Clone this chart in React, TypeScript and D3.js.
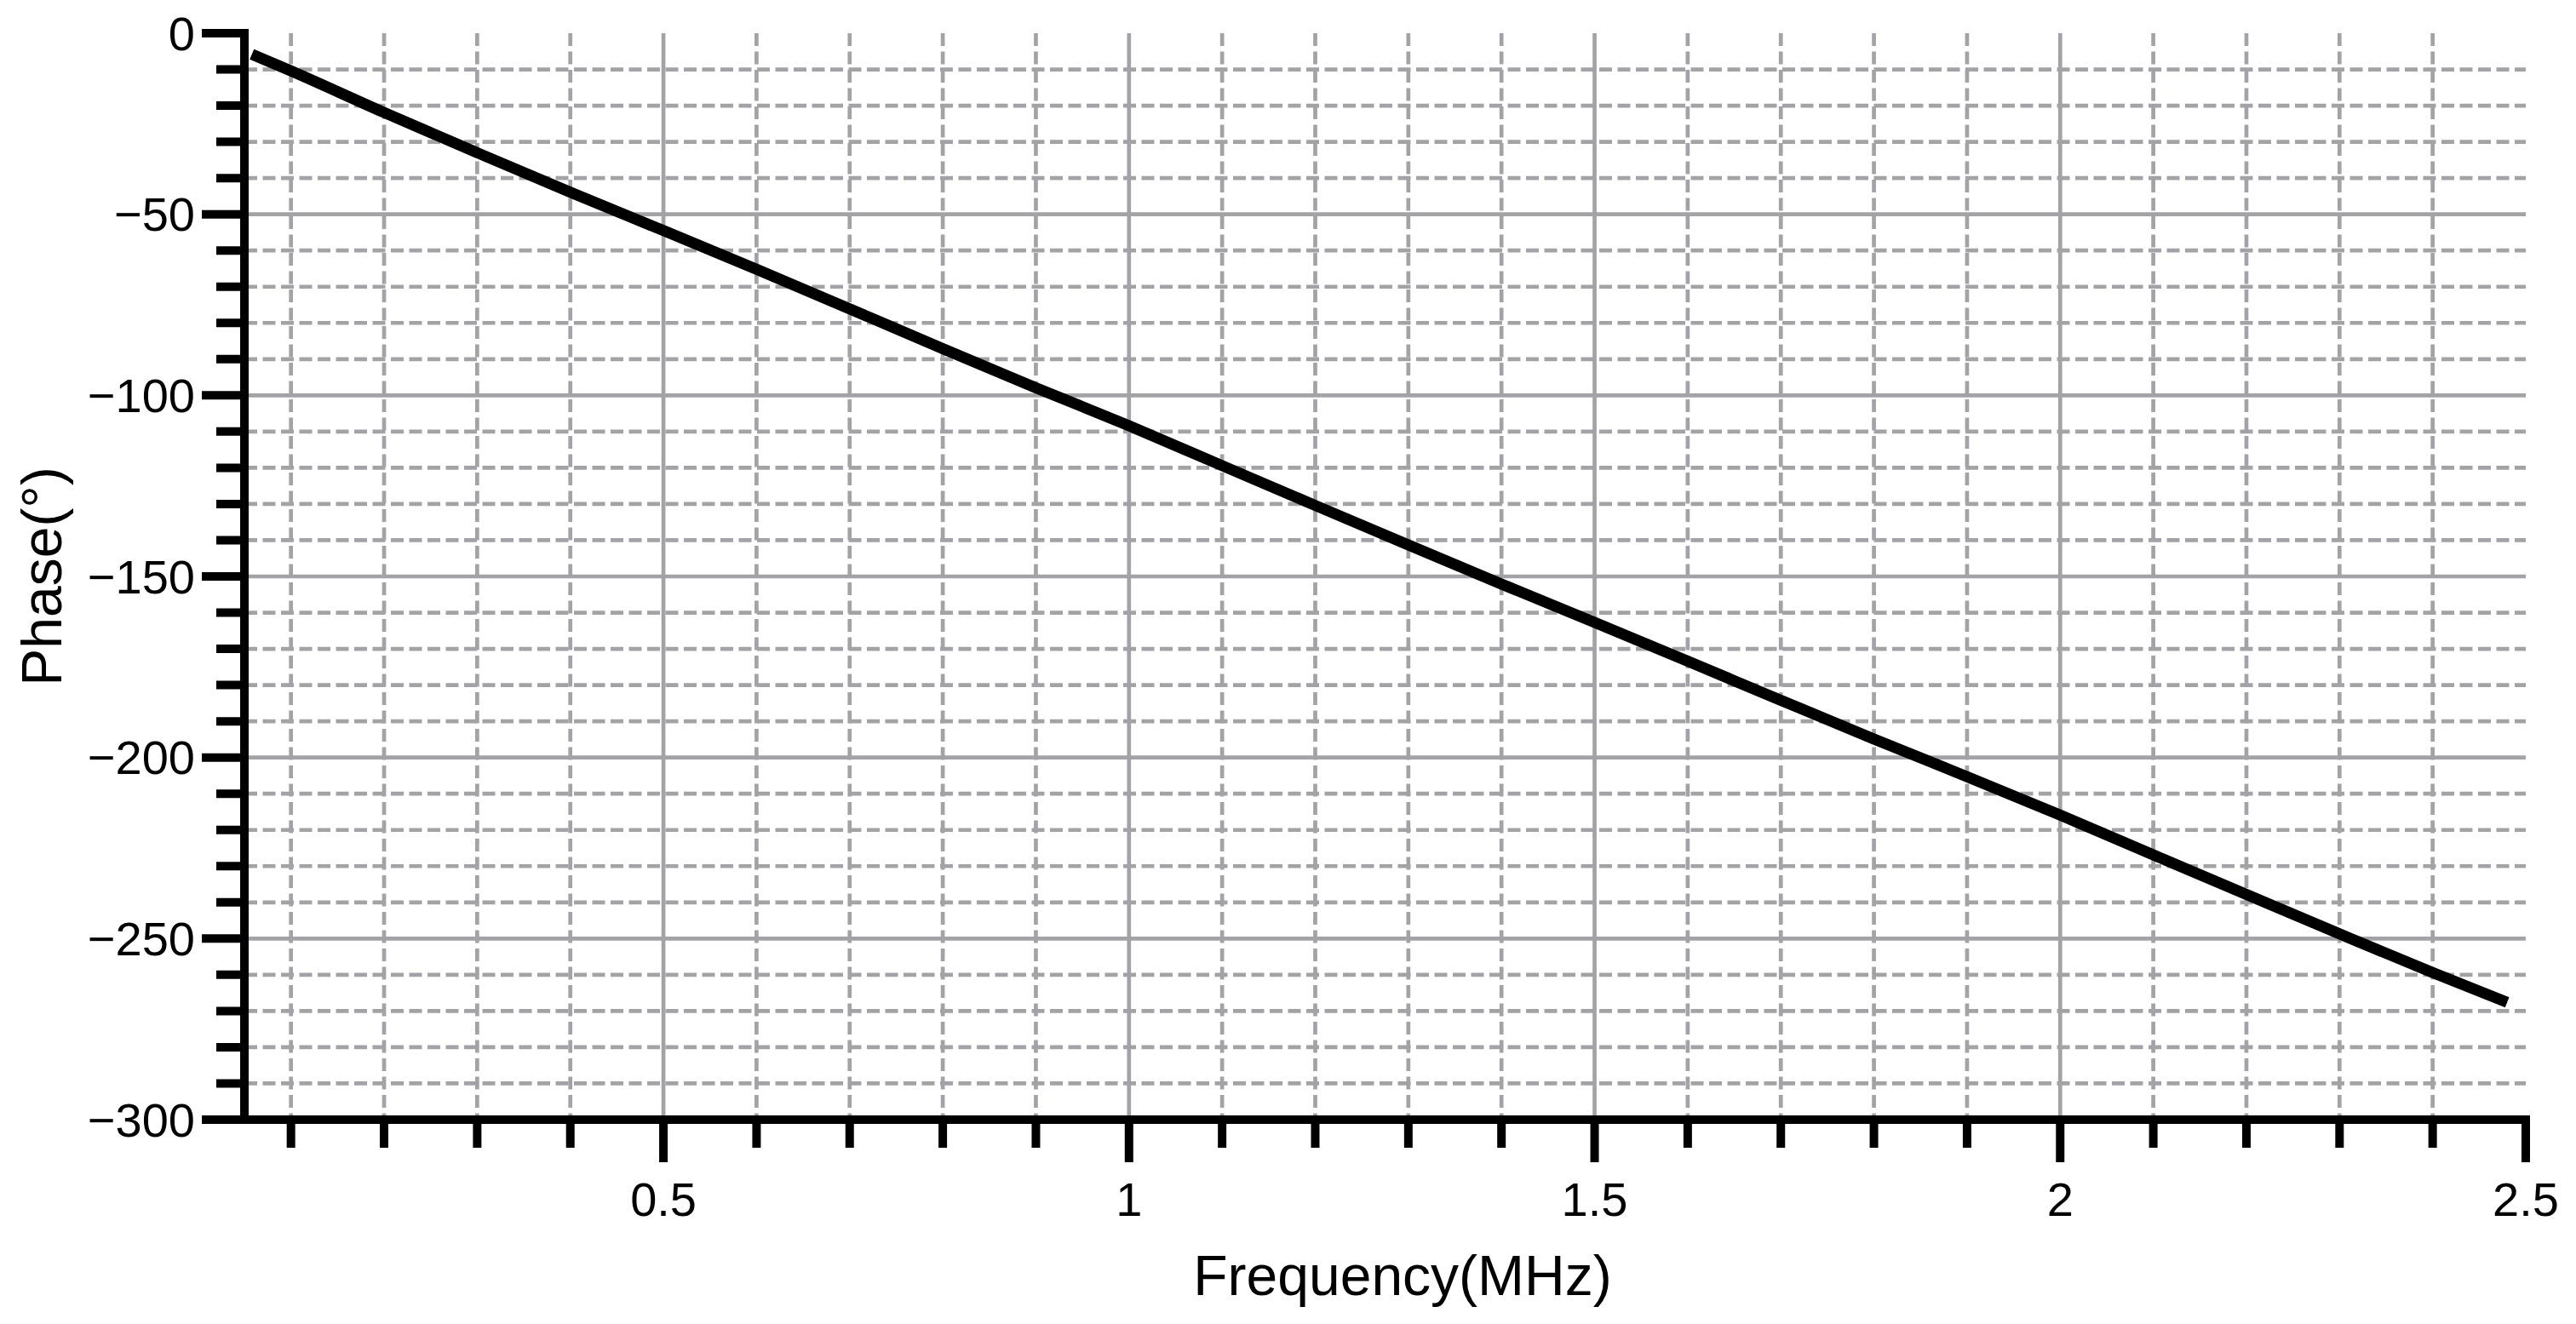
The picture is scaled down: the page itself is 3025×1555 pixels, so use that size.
import React from "react";
import * as d3 from "d3";

// ---- data ----
const freqMHz = [0.058, 0.1, 0.2, 0.3, 0.4, 0.5, 0.6, 0.7, 0.8, 0.9, 1.0, 1.1, 1.2, 1.3, 1.4, 1.5, 1.6, 1.7, 1.8, 1.9, 2.0, 2.1, 2.2, 2.3, 2.4, 2.48];
const phaseDeg = [-5.8, -10.4, -21.9, -33.0, -43.9, -54.5, -65.2, -76.1, -87.1, -97.9, -108.4, -119.4, -130.4, -141.3, -152.1, -162.7, -173.4, -184.2, -194.9, -205.3, -215.9, -226.9, -237.8, -248.7, -259.4, -267.6];

const xMajorTicks = [0.5, 1, 1.5, 2, 2.5];
const xMinorTicks = [0.1, 0.2, 0.3, 0.4, 0.6, 0.7, 0.8, 0.9, 1.1, 1.2, 1.3, 1.4, 1.6, 1.7, 1.8, 1.9, 2.1, 2.2, 2.3, 2.4];
const yMajorTicks = [0, -50, -100, -150, -200, -250, -300];
const yMinorTicks = [-10, -20, -30, -40, -60, -70, -80, -90, -110, -120, -130, -140, -160, -170, -180, -190, -210, -220, -230, -240, -260, -270, -280, -290];

const xDomain = [0.05, 2.5];
const yDomain = [-300, 0];
const xTitle = "Frequency(MHz)";
const yTitle = "Phase(°)";

const W = 3025;
const H = 1555;
const left = 287;
const right = 2966;
const top = 39;
const bottom = 1315;

const FONT = "'Liberation Sans', Arial, Helvetica, sans-serif";
const GRID = "#a3a3a7";

export default function App() {
  const x = d3.scaleLinear().domain(xDomain).range([left, right]);
  const y = d3.scaleLinear().domain(yDomain).range([bottom, top]);
  const fmtY = d3.format("d");
  const fmtX = d3.format("~g");

  const pts: [number, number][] = freqMHz.map((f, i) => [f, phaseDeg[i]]);
  const line = d3
    .line<[number, number]>()
    .x((d) => x(d[0]))
    .y((d) => y(d[1]))
    .curve(d3.curveMonotoneX);

  const majorLen = 50;
  const minorLen = 33;
  const axisW = 10;

  return (
    <svg
      width={W}
      height={H}
      viewBox={`0 0 ${W} ${H}`}
      style={{ position: "absolute", left: 0, top: 0, display: "block", background: "#fff" }}
    >
      <rect x={0} y={0} width={W} height={H} fill="#fff" />
      {/* grid */}
      <g stroke={GRID} strokeWidth={4.7} fill="none">
        {yMinorTicks.map((v) => (
          <line key={"gy" + v} x1={left} x2={right} y1={y(v)} y2={y(v)} strokeDasharray="15 6.5" />
        ))}
        {yMajorTicks
          .filter((v) => v !== 0 && v !== -300)
          .map((v) => (
            <line key={"gY" + v} x1={left} x2={right} y1={y(v)} y2={y(v)} />
          ))}
        {xMinorTicks.map((v) => (
          <line key={"gx" + v} x1={x(v)} x2={x(v)} y1={top} y2={bottom} strokeDasharray="15 6.5" />
        ))}
        {xMajorTicks
          .filter((v) => v !== 2.5)
          .map((v) => (
            <line key={"gX" + v} x1={x(v)} x2={x(v)} y1={top} y2={bottom} />
          ))}
      </g>

      {/* data line */}
      <path d={line(pts) || ""} fill="none" stroke="#000" strokeWidth={13} strokeLinejoin="round" strokeLinecap="butt" />

      {/* axes */}
      <g stroke="#000" strokeWidth={axisW}>
        <line x1={left} x2={left} y1={y(0) - axisW / 2} y2={bottom + axisW / 2} />
        <line x1={left - axisW / 2} x2={right + axisW / 2} y1={bottom} y2={bottom} />
        {yMajorTicks.map((v) => (
          <line key={"ty" + v} x1={left - majorLen} x2={left} y1={y(v)} y2={y(v)} />
        ))}
        {yMinorTicks.map((v) => (
          <line key={"ty" + v} x1={left - minorLen} x2={left} y1={y(v)} y2={y(v)} />
        ))}
        {xMajorTicks.map((v) => (
          <line key={"tx" + v} x1={x(v)} x2={x(v)} y1={bottom} y2={bottom + majorLen} />
        ))}
        {xMinorTicks.map((v) => (
          <line key={"tx" + v} x1={x(v)} x2={x(v)} y1={bottom} y2={bottom + minorLen} />
        ))}
      </g>

      {/* tick labels */}
      <g fontFamily={FONT} fontSize={56} fill="#000">
        {yMajorTicks.map((v) => (
          <text key={"ly" + v} x={left - majorLen - 8} y={y(v)} dy="0.35em" textAnchor="end">
            {fmtY(v)}
          </text>
        ))}
        {xMajorTicks.map((v) => (
          <text key={"lx" + v} x={x(v)} y={1428} textAnchor="middle">
            {fmtX(v)}
          </text>
        ))}
      </g>

      {/* axis titles */}
      <text x={1647} y={1521} textAnchor="middle" fontFamily={FONT} fontSize={66} fill="#000">
        {xTitle}
      </text>
      <text
        transform={`translate(72, ${(top + bottom) / 2}) rotate(-90)`}
        textAnchor="middle"
        fontFamily={FONT}
        fontSize={66}
        fill="#000"
      >
        {yTitle}
      </text>
    </svg>
  );
}
